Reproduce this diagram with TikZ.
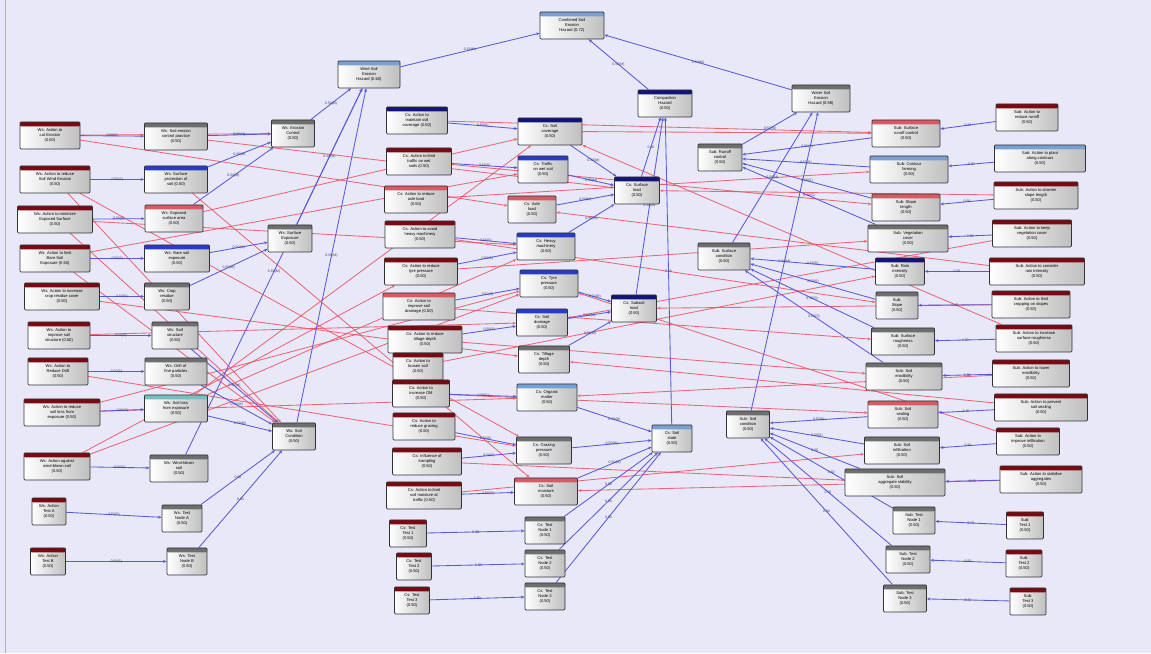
\documentclass[tikz,border=0pt]{standalone}
\usepackage{fontspec}
\setmainfont{Liberation Sans}
\usetikzlibrary{arrows.meta}
\pgfdeclarelayer{bg}
\pgfdeclarelayer{edges}
\pgfsetlayers{bg,edges,main}
\definecolor{bgc}{RGB}{232,232,249}
\definecolor{bluec}{RGB}{90,90,210}
\definecolor{redc}{RGB}{236,80,95}
\definecolor{hred}{RGB}{120,10,20}
\definecolor{hnavy}{RGB}{20,20,120}
\definecolor{hblue}{RGB}{40,60,200}
\definecolor{hlight}{RGB}{120,160,210}
\definecolor{hgray}{RGB}{110,110,110}
\definecolor{hpink}{RGB}{215,90,100}
\definecolor{hteal}{RGB}{120,190,190}
\definecolor{labc}{RGB}{60,60,120}
\tikzset{
  nd/.style={draw=gray!40!black, line width=0.8pt, rounded corners=1pt,
    minimum height=27pt, inner sep=1pt, align=center,
    font=\fontsize{4.1}{4.7}\selectfont, left color=white, right color=gray!50, text=black},
  hd/.style={path picture={\fill[#1] (path picture bounding box.north west) rectangle ([yshift=-4.5pt]path picture bounding box.north east);}},
  be/.style={draw=bluec, line width=0.85pt, -{Stealth[length=3.5pt,width=3pt]}},
  re/.style={draw=redc, draw opacity=0.85, line width=0.85pt, -{Stealth[length=3.5pt,width=3pt,open]}},
  lab/.style={font=\fontsize{3.5}{3.9}\selectfont, text=labc, inner sep=0.5pt}
}
\newcommand\N[6]{\node[nd, hd=#5, minimum width=#4pt] (#1) at (#2,#3) {#6};}
\begin{document}
\begin{tikzpicture}[x=1pt,y=-1pt]
\begin{pgfonlayer}{bg}
\fill[bgc] (0,0) rectangle (1151,653);
\draw[gray!60, line width=0.8pt] (5,0) -- (5,653);
\end{pgfonlayer}
\useasboundingbox (0,0) rectangle (1151,653);
% top level
\N{T}{572}{25}{64}{hlight}{Combined Soil\\Erosion\\Hazard (0.72)}
\N{L1}{369}{74}{62}{hlight}{Wind Soil\\Erosion\\Hazard (0.60)}
\N{C1}{665}{103}{54}{hnavy}{Compaction\\Hazard\\(0.50)}
\N{R1}{821}{98}{58}{hgray}{Water Soil\\Erosion\\Hazard (0.58)}
% left sources
\N{a1}{50}{135}{60}{hred}{Ws: Action to\\cut Erosion\\(0.50)}
\N{a2}{55}{179}{70}{hred}{Ws: Action to reduce\\Soil Wind Erosion\\(0.50)}
\N{a3}{55}{219}{75}{hred}{Ws: Action to minimize\\Exposed Surface\\(0.50)}
\N{a4}{55}{258}{70}{hred}{Ws: Action to limit\\Bare Soil\\Exposure (0.50)}
\N{a5}{62}{296}{75}{hred}{Ws: Action to increase\\crop residue cover\\(0.50)}
\N{a6}{59}{335}{62}{hred}{Ws: Action to\\improve soil\\structure (0.50)}
\N{a7}{58}{371}{60}{hred}{Ws: Action to\\Reduce Drift\\(0.50)}
\N{a8}{62}{412}{76}{hred}{Ws: Action to reduce\\soil loss from\\exposure (0.50)}
\N{a9}{57}{466}{66}{hred}{Ws: Action against\\wind-blown soil\\(0.50)}
\N{a10}{49}{511}{34}{hred}{Ws: Action\\Test A\\(0.50)}
\N{a11}{48}{561}{35}{hred}{Ws: Action\\Test B\\(0.50)}
% left intermediates
\N{b1}{176}{136}{63}{hgray}{Ws: Soil erosion\\control practice\\(0.50)}
\N{b2}{176}{179}{63}{hblue}{Ws: Surface\\protection of\\soil (0.50)}
\N{b3}{174}{218}{58}{hpink}{Ws: Exposed\\surface area\\(0.50)}
\N{b4}{177}{258}{65}{hblue}{Ws: Bare soil\\exposure\\(0.50)}
\N{b5}{167}{296}{45}{hgray}{Ws: Crop\\residue\\(0.50)}
\N{b6}{175}{335}{46}{hgray}{Ws: Soil\\structure\\(0.50)}
\N{b7}{176}{371}{62}{hgray}{Ws: Drift of\\fine particles\\(0.50)}
\N{b8}{176}{408}{63}{hteal}{Ws: Soil loss\\from exposure\\(0.50)}
\N{b9}{179}{468}{58}{hgray}{Ws: Wind-blown\\soil\\(0.50)}
\N{b10}{182}{518}{40}{hgray}{Ws: Test\\Node A\\(0.50)}
\N{b11}{187}{561}{40}{hgray}{Ws: Test\\Node B\\(0.50)}
\N{c1}{293}{133}{43}{hgray}{Ws: Erosion\\Control\\(0.50)}
\N{c2}{290}{238}{44}{hgray}{Ws: Surface\\Exposure\\(0.50)}
\N{c3}{294}{436}{43}{hgray}{Ws: Soil\\Condition\\(0.50)}
% middle sources
\N{d1}{417}{120}{61}{hnavy}{Cs: Action to\\maintain soil\\coverage (0.50)}
\N{d2}{419}{161}{65}{hred}{Cs: Action to limit\\traffic on wet\\soils (0.50)}
\N{d3}{416}{199}{63}{hpink}{Cs: Action to reduce\\axle load\\(0.50)}
\N{d4}{420}{234}{70}{hred}{Cs: Action to avoid\\heavy machinery\\(0.50)}
\N{d5}{421}{271}{73}{hred}{Cs: Action to reduce\\tyre pressure\\(0.50)}
\N{d6}{419}{306}{72}{hpink}{Cs: Action to\\improve soil\\drainage (0.50)}
\N{d7}{425}{339}{74}{hred}{Cs: Action to reduce\\tillage depth\\(0.50)}
\N{d8}{418}{366}{50}{hred}{Cs: Action to\\loosen soil\\(0.50)}
\N{d9}{421}{393}{57}{hred}{Cs: Action to\\increase OM\\(0.50)}
\N{d10}{424}{426}{62}{hred}{Cs: Action to\\reduce grazing\\(0.50)}
\N{d11}{427}{461}{69}{hred}{Cs: Influence of\\trampling\\(0.50)}
\N{d12}{424}{495}{75}{hred}{Cs: Action to limit\\soil moisture at\\traffic (0.50)}
\N{d13}{408}{533}{37}{hred}{Cs: Test\\Test 1\\(0.50)}
\N{d14}{414}{566}{35}{hred}{Cs: Test\\Test 2\\(0.50)}
\N{d15}{412}{600}{35}{hred}{Cs: Test\\Test 3\\(0.50)}
% middle intermediates
\N{e1}{550}{131}{64}{hnavy}{Cs: Soil\\coverage\\(0.50)}
\N{e2}{543}{169}{50}{hblue}{Cs: Traffic\\on wet soil\\(0.50)}
\N{e3}{532}{209}{48}{hpink}{Cs: Axle\\load\\(0.50)}
\N{e4}{546}{246}{58}{hblue}{Cs: Heavy\\machinery\\(0.50)}
\N{e5}{549}{283}{58}{hblue}{Cs: Tyre\\pressure\\(0.50)}
\N{e6}{542}{322}{51}{hblue}{Cs: Soil\\drainage\\(0.50)}
\N{e7}{544}{359}{51}{hgray}{Cs: Tillage\\depth\\(0.50)}
\N{e8}{547}{397}{60}{hlight}{Cs: Organic\\matter\\(0.50)}
\N{e9}{544}{450}{55}{hgray}{Cs: Grazing\\pressure\\(0.50)}
\N{e10}{546}{491}{63}{hpink}{Cs: Soil\\moisture\\(0.50)}
\N{e11}{545}{530}{40}{hgray}{Cs: Test\\Node 1\\(0.50)}
\N{e12}{545}{563}{40}{hgray}{Cs: Test\\Node 2\\(0.50)}
\N{e13}{545}{596}{40}{hgray}{Cs: Test\\Node 3\\(0.50)}
\N{f1}{637}{190}{45}{hnavy}{Cs: Surface\\load\\(0.50)}
\N{f2}{634}{308}{45}{hnavy}{Cs: Subsoil\\load\\(0.50)}
\N{f3}{672}{438}{40}{hlight}{Cs: Soil\\state\\(0.50)}
% right intermediates
\N{g1}{720}{157}{44}{hgray}{Sub: Runoff\\control\\(0.50)}
\N{g2}{724}{256}{52}{hgray}{Sub: Surface\\condition\\(0.50)}
\N{g3}{748}{424}{43}{hgray}{Sub: Soil\\condition\\(0.50)}
\N{h1}{906}{133}{68}{hpink}{Sub: Surface\\runoff control\\(0.50)}
\N{h2}{909}{169}{78}{hlight}{Sub: Contour\\farming\\(0.50)}
\N{h3}{906}{207}{68}{hpink}{Sub: Slope\\length\\(0.50)}
\N{h4}{908}{238}{80}{hgray}{Sub: Vegetation\\cover\\(0.50)}
\N{h5}{900}{271}{49}{hnavy}{Sub: Rain\\intensity\\(0.50)}
\N{h6}{897}{305}{42}{hgray}{Sub:\\Slope\\(0.50)}
\N{h7}{903}{341}{63}{hgray}{Sub: Surface\\roughness\\(0.50)}
\N{h8}{904}{376}{76}{hgray}{Sub: Soil\\erodibility\\(0.50)}
\N{h9}{903}{414}{70}{hpink}{Sub: Soil\\sealing\\(0.50)}
\N{h10}{902}{450}{75}{hgray}{Sub: Soil\\infiltration\\(0.50)}
\N{h11}{895}{482}{100}{hgray}{Sub: Soil\\aggregate stability\\(0.50)}
\N{h12}{914}{520}{42}{hgray}{Sub: Test\\Node 1\\(0.50)}
\N{h13}{908}{559}{44}{hgray}{Sub: Test\\Node 2\\(0.50)}
\N{h14}{905}{598}{43}{hgray}{Sub: Test\\Node 3\\(0.50)}
% right sources
\N{i1}{1027}{117}{62}{hred}{Sub: Action to\\reduce runoff\\(0.50)}
\N{i2}{1040}{158}{91}{hlight}{Sub: Action to plant\\along contours\\(0.50)}
\N{i3}{1036}{195}{84}{hred}{Sub: Action to shorten\\slope length\\(0.50)}
\N{i4}{1032}{233}{79}{hred}{Sub: Action to keep\\vegetation cover\\(0.50)}
\N{i5}{1037}{271}{95}{hred}{Sub: Action to consider\\rain intensity\\(0.50)}
\N{i6}{1031}{304}{78}{hred}{Sub: Action to limit\\cropping on slopes\\(0.50)}
\N{i7}{1034}{338}{76}{hred}{Sub: Action to increase\\surface roughness\\(0.50)}
\N{i8}{1031}{373}{77}{hred}{Sub: Action to lower\\erodibility\\(0.50)}
\N{i9}{1041}{407}{93}{hred}{Sub: Action to prevent\\soil sealing\\(0.50)}
\N{i10}{1028}{441}{63}{hred}{Sub: Action to\\improve infiltration\\(0.50)}
\N{i11}{1041}{479}{82}{hred}{Sub: Action to stabilise\\aggregates\\(0.50)}
\N{i12}{1025}{525}{37}{hred}{Sub:\\Test 1\\(0.50)}
\N{i13}{1024}{563}{36}{hred}{Sub:\\Test 2\\(0.50)}
\N{i14}{1028}{601}{36}{hred}{Sub:\\Test 3\\(0.50)}
\begin{pgfonlayer}{edges}
% red connectors
\foreach \s/\t in {a1/e3, a1/c1, a2/c3, a2/e9, a3/e4, a4/e2, a4/c3, a5/e7, a6/e6, a7/e9, a8/e8, a9/e5, b8/e4, b1/f1, b3/e1,
  a9/d5, b8/e1, a3/c3, b2/e10, a8/e5,
  d1/h1, d2/h3, d3/h2, d4/h6, d5/h4, d6/h7, d7/h8, d9/h9, d11/h11, d12/h10, e1/h1, d8/h5,
  i5/e3, i3/f1, i9/e7, i11/e10, i7/e1, i8/e8, i4/e6, i6/f2, i10/e5}
  \draw[re] (\s) -- (\t);
% blue connectors with labels
\foreach \s/\t/\l in {a1/b1/0.50(S), a2/b2/0.50(S), a3/b3/0.50(S), a4/b4/0.50(S), a5/b5/0.50(S), a6/b6/0.50(S),
  a7/b7/0.50(S), a8/b8/0.50(S), a9/b9/0.50(S), a10/b10/0.50(S), a11/b11/0.50(S),
  b1/c1/0.50(M), b2/c1/0.50(M), b3/c1/0.50(M), b4/c2/0.50(M), b5/c2/0.50(M), b6/c3/0.50(M),
  b7/c3/0.50(M), b8/c3/0.50(M), b9/L1/0.50(M), b10/c3/0.50, b11/c3/0.50,
  c1/L1/0.50(M), c2/L1/0.50(M), c3/L1/0.50(M), L1/T/0.50(M), C1/T/0.50(M), R1/T/0.50(M),
  d1/e1/0.50(S), d2/e2/0.50(S), d4/e4/0.50(S), d5/e4/0.50(S), d6/e5/0.50(S), d7/e6/0.50(S),
  d9/e8/0.50(S), d10/e9/0.50(S), d11/e9/0.50(S), d12/e10/0.50(S), d13/e11/0.50, d14/e12/0.50, d15/e13/0.50,
  e1/f1/0.50(M), e2/f1/0.50(M), e3/f1/0.50(M), e4/f1/0.50(M), e5/f2/0.50(M), e6/f2/0.50(M), e7/f2/0.50(M),
  f1/C1/0.50, f2/C1/0.50(M), f3/C1/0.50,
  e8/f3/0.50(M), e9/f3/0.50(M), e10/f3/0.50(M), e11/f3/0.50, e12/f3/0.50, e13/f3/0.50,
  i1/h1/0.50, i2/h2/0.50, i3/h3/0.50, i4/h4/0.50, i5/h5/0.50, i6/h6/0.50, i7/h7/0.50,
  i8/h8/0.50, i9/h9/0.50, i10/h10/0.50, i11/h11/0.50, i12/h12/0.50, i13/h13/0.50, i14/h14/0.50,
  h1/g1/0.50(S), h2/g1/0.50(S), h3/g1/0.50(S), h4/g1/0.50(S), h5/g2/0.50(S), h6/g2/0.50(S),
  h7/g2/0.50(S), h8/g2/0.50(S), h9/g3/0.50(S), h10/g3/0.50(S), h11/g3/0.50, h12/g3/0.50, h13/g3/0.50, h14/g3/0.50,
  g1/R1/0.50(M), g2/R1/0.50(M), g3/R1/0.50(M)}
  \draw[be] (\s) -- node[lab]{\l} (\t);
\end{pgfonlayer}
\end{tikzpicture}
\end{document}
